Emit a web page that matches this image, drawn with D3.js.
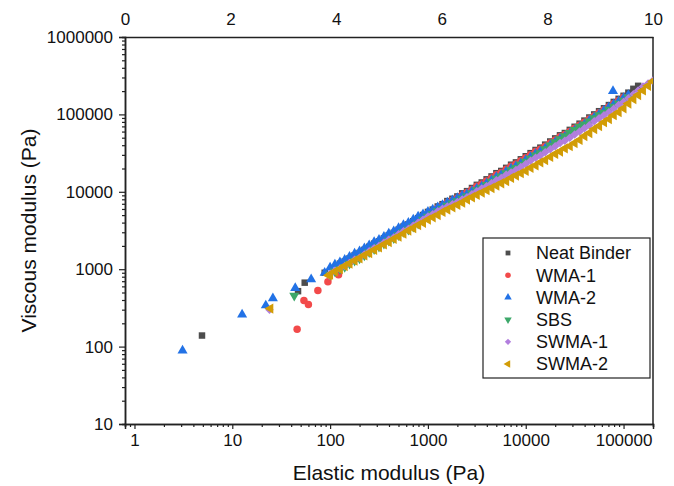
<!DOCTYPE html>
<html>
<head>
<meta charset="utf-8">
<script src="https://cdn.jsdelivr.net/npm/d3@7"></script>
<style>
  body { margin: 0; background: #fff; }
  text { font-family: "Liberation Sans", Arial, sans-serif; fill: #111; }
</style>
</head>
<body>
<svg id="chart" width="674" height="486"></svg>
<script>
// series names and colours (legend order = draw order)
const seriesNames = ["Neat Binder", "WMA-1", "WMA-2", "SBS", "SWMA-1", "SWMA-2"];
const seriesColors = ["#4d4d4d", "#f24a4a", "#2272e6", "#3da86a", "#b27ede", "#d29c06"];
const seriesShapes = ["square", "circle", "triangleUp", "triangleDown", "diamond", "triangleLeft"];

// [elastic modulus G' (Pa), viscous modulus G'' (Pa)]
const neatBinder = [[4.9,139],[47,520],[55,670],[88,900],
  [126,1180],[141,1260],[158,1380],[178,1510],[200,1620],[224,1780],[251,1950],[282,2140],[316,2290],[355,2510],
  [398,2750],[447,2950],[501,3240],[562,3550],[631,3800],[708,4170],[794,4570],[891,5010],[1000,5500],[1120,5890],
  [1260,6460],[1410,6920],[1580,7590],[1780,8130],[2000,8710],[2240,9550],[2510,10200],[2820,11200],[3160,12300],
  [3550,13200],[3980,14500],[4470,15800],[5010,17400],[5620,18600],[6310,20400],[7080,22400],[7940,24000],
  [8910,26300],[10000,28800],[11200,31600],[12600,34700],[14100,37200],[15800,40700],[17800,44700],[20000,49000],
  [22400,53700],[25100,57500],[28200,63100],[31600,69200],[35500,75900],[39800,83200],[44700,91200],[50100,100000],
  [56200,110000],[63100,120000],[70800,132000],[79400,145000],[89100,159000],[100000,174000],[112000,191000],
  [126000,214000],[141000,234000]];

const wma1 = [[46,168],[54,395],[60,350],[75,530],[95,690],[122,850],
  [158,1230],[178,1350],[200,1480],[224,1620],[251,1780],[282,1950],[316,2090],[355,2290],[398,2510],[447,2750],
  [501,3020],[562,3310],[631,3550],[708,3890],[794,4270],[891,4680],[1000,5250],[1120,5620],[1260,6170],[1410,6610],
  [1580,7240],[1780,7760],[2000,8320],[2240,9120],[2510,9770],[2820,10700],[3160,11800],[3550,12600],[3980,13800],
  [4470,15100],[5010,16600],[5620,17800],[6310,19500],[7080,21400],[7940,22900],[8910,25100],[10000,27500],
  [11200,30200],[12600,33100],[14100,35500],[15800,38900],[17800,42700],[20000,46800],[22400,51300],[25100,55000],
  [28200,60300],[31600,66100],[35500,72400],[39800,79400],[44700,87100],[50100,95500],[56200,105000],[63100,115000],
  [70800,126000],[79400,138000],[89100,151000],[100000,166000]];

const wma2 = [[3.1,89],[12.6,259],[22,340],[26,420],[44,570],[64,740],[88,900],
  [100,1050],[112,1150],[126,1230],[141,1320],[158,1450],[178,1590],[200,1700],[224,1860],[251,2040],[282,2240],
  [316,2400],[355,2630],[398,2880],[447,3090],[501,3390],[562,3720],[631,3980],[708,4370],[794,4790],[891,5130],
  [1000,5500],[1120,5890],[1260,6310],[1410,6760],[1580,7240],[1780,7760],[2000,8320],[2240,8910],[2510,9330],
  [2820,10200],[3160,11000],[3550,11800],[3980,12900],[4470,14100],[5010,15500],[5620,16600],[6310,18200],
  [7080,20000],[7940,21400],[8910,23400],[10000,25700],[11200,28200],[12600,30900],[14100,33100],[15800,36300],
  [17800,39800],[20000,43700],[22400,47900],[25100,51300],[28200,56200],[31600,61700],[35500,67600],[39800,74100],
  [44700,83200],[50100,91200],[56200,100000],[63100,112000],[70800,123000],[79400,135000],[89100,148000],
  [100000,162000],[112000,178000],[78000,200000]];

const sbs = [[43,455],
  [100,851],[112,933],[126,1000],[141,1070],[158,1180],[178,1290],[200,1380],[224,1510],[251,1660],[282,1820],
  [316,1950],[355,2140],[398,2340],[447,2510],[501,2750],[562,3020],[631,3240],[708,3550],[794,3890],[891,4370],
  [1000,4790],[1120,5130],[1260,5620],[1410,6030],[1580,6610],[1780,7080],[2000,7590],[2240,8130],[2510,8710],
  [2820,9550],[3160,10500],[3550,11200],[3980,12300],[4470,13500],[5010,14800],[5620,15800],[6310,17400],
  [7080,19100],[7940,20400],[8910,22400],[10000,24500],[11200,26900],[12600,29500],[14100,31600],[15800,35500],
  [17800,39800],[20000,43700],[22400,47900],[25100,52500],[28200,57500],[31600,63100],[35500,69200],[39800,74100],
  [44700,81300],[50100,89100],[56200,97700],[63100,105000],[70800,115000],[79400,126000],[89100,138000],
  [100000,151000],[112000,166000]];

const swma1 = [[24,300],[98,830],
  [100,871],[112,955],[126,1020],[141,1100],[158,1200],[178,1320],[200,1410],[224,1550],[251,1700],[282,1860],
  [316,2000],[355,2190],[398,2400],[447,2570],[501,2820],[562,3090],[631,3310],[708,3630],[794,3980],[891,4370],
  [1000,4790],[1120,5130],[1260,5620],[1410,6030],[1580,6460],[1780,6920],[2000,7410],[2240,7940],[2510,8510],
  [2820,9330],[3160,10200],[3550,11000],[3980,11800],[4470,12900],[5010,14100],[5620,15100],[6310,16600],
  [7080,17800],[7940,19100],[8910,20900],[10000,22900],[11200,25100],[12600,27500],[14100,29500],[15800,32400],
  [17800,35500],[20000,38900],[22400,42700],[25100,45700],[28200,50100],[31600,55000],[35500,60300],[39800,66100],
  [44700,72400],[50100,81300],[56200,89100],[63100,97700],[70800,107000],[79400,118000],[89100,132000],
  [100000,145000],[112000,162000],[126000,182000],[141000,204000],[158000,229000],[178000,251000],[200000,275000]];

const swma2 = [[24.5,310],[97,830],
  [100,851],[112,933],[126,1000],[141,1100],[158,1180],[178,1290],[200,1380],[224,1510],[251,1620],[282,1780],
  [316,1910],[355,2090],[398,2240],[447,2460],[501,2630],[562,2880],[631,3160],[708,3390],[794,3720],[891,3980],
  [1000,4370],[1120,4680],[1260,5010],[1410,5500],[1580,5890],[1780,6310],[2000,6760],[2240,7240],[2510,7940],
  [2820,8510],[3160,9120],[3550,9770],[3980,10500],[4470,11200],[5010,12000],[5620,12900],[6310,13800],
  [7080,15100],[7940,16200],[8910,17400],[10000,18600],[11200,20400],[12600,21900],[14100,24000],[15800,25700],
  [17800,28200],[20000,30900],[22400,33100],[25100,36300],[28200,38900],[31600,42700],[35500,46800],[39800,52500],
  [44700,57500],[50100,64600],[56200,70800],[63100,79400],[70800,87100],[79400,97700],[89100,107000],
  [100000,120000],[112000,138000],[126000,158000],[141000,178000],[158000,204000],[178000,234000],[200000,269000]];

const xTicks = [1, 10, 100, 1000, 10000, 100000];
const yTicks = [10, 100, 1000, 10000, 100000, 1000000];
const topTicks = [0, 2, 4, 6, 8, 10];

const allSeries = [neatBinder, wma1, wma2, sbs, swma1, swma2];

const margin = { top: 37, right: 21, bottom: 62, left: 125 },
      width = 674 - margin.left - margin.right,
      height = 486 - margin.top - margin.bottom;

const svg = d3.select("#chart")
    .append("g")
    .attr("transform", `translate(${margin.left},${margin.top})`);

const x = d3.scaleLog().domain([0.8, 200000]).range([0, width]);
const y = d3.scaleLog().domain([10, 1000000]).range([height, 0]);
const xTop = d3.scaleLinear().domain([0, 10]).range([0, width]);

// minor tick positions (2..9 within each decade)
function minorTicks(lo, hi) {
    const out = [];
    for (let e = Math.floor(Math.log10(lo)); e <= Math.ceil(Math.log10(hi)); e++) {
        for (let m = 2; m <= 9; m++) {
            const v = m * Math.pow(10, e);
            if (v >= lo && v <= hi) out.push(v);
        }
    }
    return out;
}

function styleAxis(g) {
    g.select(".domain").attr("stroke", "#222").attr("stroke-width", 1.5);
    g.selectAll(".tick line").attr("stroke", "#222").attr("stroke-width", 1.2);
    g.selectAll("text").style("font-size", "17px").attr("fill", "#111");
}

// minor ticks
svg.append("g")
    .attr("transform", `translate(0,${height})`)
    .call(d3.axisBottom(x).tickValues(minorTicks(0.8, 200000)).tickSize(3).tickFormat(""))
    .call(styleAxis);
svg.append("g")
    .call(d3.axisLeft(y).tickValues(minorTicks(10, 1000000)).tickSize(3).tickFormat(""))
    .call(styleAxis);

// major axes
svg.append("g")
    .attr("transform", `translate(0,${height})`)
    .call(d3.axisBottom(x).tickValues(xTicks).tickSize(5).tickPadding(5).tickFormat(d3.format("d")))
    .call(styleAxis);
svg.append("g")
    .call(d3.axisLeft(y).tickValues(yTicks).tickSize(6).tickPadding(6).tickFormat(d3.format("d")))
    .call(styleAxis);
svg.append("g")
    .call(d3.axisTop(xTop).tickValues(topTicks).tickSize(0).tickPadding(12).tickFormat(d3.format("d")))
    .call(styleAxis);
svg.append("line")
    .attr("x1", width).attr("x2", width).attr("y1", 0).attr("y2", height)
    .attr("stroke", "#222").attr("stroke-width", 1.5);

// axis titles
svg.append("text")
    .attr("x", width / 2).attr("y", height + 56)
    .attr("text-anchor", "middle")
    .style("font-size", "21px")
    .text("Elastic modulus (Pa)");
svg.append("text")
    .attr("transform", `translate(${-89},${height / 2}) rotate(-90)`)
    .attr("text-anchor", "middle")
    .style("font-size", "21px")
    .text("Viscous modulus (Pa)");

// markers
const symbolFor = {
    square: { type: d3.symbolSquare, size: 42, rot: 0 },
    circle: { type: d3.symbolCircle, size: 44, rot: 0 },
    triangleUp: { type: d3.symbolTriangle, size: 44, rot: 0 },
    triangleDown: { type: d3.symbolTriangle, size: 44, rot: 180 },
    diamond: { type: d3.symbolSquare, size: 36, rot: 45 },
    triangleLeft: { type: d3.symbolTriangle, size: 46, rot: -90 }
};

svg.append("clipPath").attr("id", "plot-clip")
    .append("rect").attr("width", width).attr("height", height);

const plot = svg.append("g").attr("clip-path", "url(#plot-clip)");

allSeries.forEach((data, i) => {
    const s = symbolFor[seriesShapes[i]];
    plot.append("g")
        .selectAll("path")
        .data(data)
        .enter().append("path")
        .attr("d", d3.symbol().type(s.type).size(s.size))
        .attr("transform", d => `translate(${x(d[0])},${y(d[1])}) rotate(${s.rot})`)
        .attr("fill", seriesColors[i]);
});

// legend
const legend = svg.append("g").attr("transform", `translate(${483 - margin.left},${238 - margin.top})`);
legend.append("rect")
    .attr("width", 167).attr("height", 140)
    .attr("fill", "#fff").attr("stroke", "#222").attr("stroke-width", 1.2);

seriesNames.forEach((name, i) => {
    const s = symbolFor[seriesShapes[i]];
    const row = legend.append("g").attr("transform", `translate(0,${15 + i * 22.2})`);
    row.append("path")
        .attr("d", d3.symbol().type(s.type).size(s.size * 0.55))
        .attr("transform", `translate(25,0) rotate(${s.rot})`)
        .attr("fill", seriesColors[i]);
    row.append("text")
        .attr("x", 53).attr("y", 0).attr("dy", "0.35em")
        .style("font-size", "18px")
        .text(name);
});
</script>
</body>
</html>
